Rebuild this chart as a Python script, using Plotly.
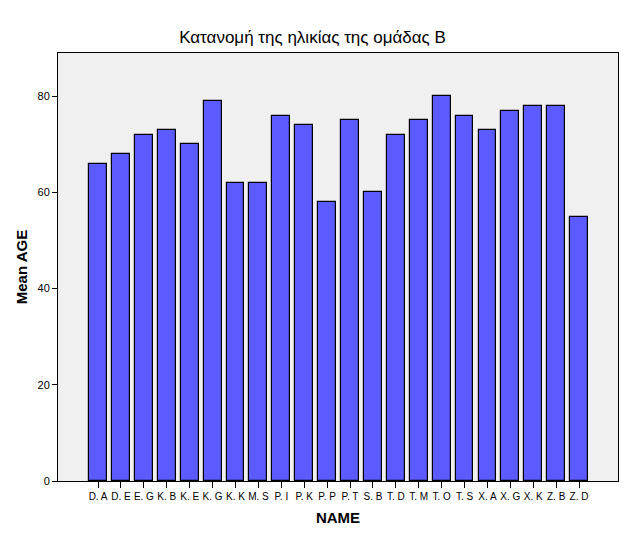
import plotly.graph_objects as go

names = ["D. A", "D. E", "E. G", "K. B", "K. E", "K. G", "K. K", "M. S", "P. I", "P. K", "P. P",
         "P. T", "S. B", "T. D", "T. M", "T. O", "T. S", "X. A", "X. G", "X. K", "Z. B", "Z. D"]
mean_age = [66, 68, 72, 73, 70, 79, 62, 62, 76, 74, 58, 75, 60, 72, 75, 80, 76, 73, 77, 78, 78, 55]
y_ticks = [0, 20, 40, 60, 80]

fig = go.Figure()
fig.add_trace(go.Bar(
    x=names, y=mean_age, width=0.78,
    marker=dict(color="#5b5bff", line=dict(color="#000000", width=1.2)),
))

fig.update_layout(
    width=625, height=540,
    margin=dict(l=58, r=7, t=53, b=59, autoexpand=False),
    paper_bgcolor="white", plot_bgcolor="#f0f0f0",
    font=dict(family="Arial, Liberation Sans, sans-serif", color="black"),
    title=dict(text="Κατανομή της ηλικίας της ομάδας Β", x=0.5, xanchor="center",
               y=1 - 37 / 540, yanchor="middle", font=dict(size=17, color="black")),
    showlegend=False, bargap=0,
)
fig.update_xaxes(
    type="category", range=[-1.75, 22.7], tickangle=0, automargin=False,
    showline=True, linecolor="black", linewidth=1, mirror=True,
    ticks="outside", ticklen=6, tickcolor="black", tickfont=dict(size=10),
    showgrid=False,
    title=dict(text="<b>NAME</b>", font=dict(size=15), standoff=11),
)
fig.update_yaxes(
    range=[0, 89], tickvals=y_ticks, automargin=False,
    showline=True, linecolor="black", linewidth=1, mirror=True,
    ticks="outside", ticklen=5, tickcolor="black", tickfont=dict(size=11),
    showgrid=False, zeroline=False,
    title=dict(text="<b>Mean AGE</b>", font=dict(size=15), standoff=6),
)

fig.write_html("out.html")
